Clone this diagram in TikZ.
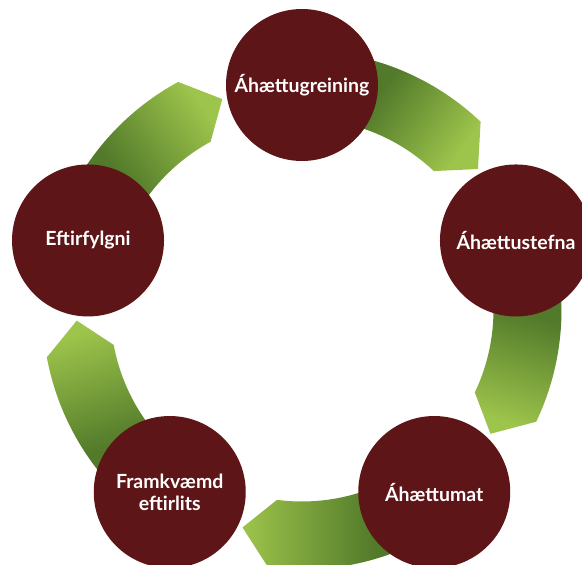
\documentclass[tikz,border=0pt]{standalone}
\usepackage{fontspec}
\setmainfont{Lato}
\definecolor{maroon}{HTML}{5E1517}
\definecolor{gdark}{HTML}{527A2A}
\definecolor{glight}{HTML}{9DC44B}
\pgfdeclarehorizontalshading{arrowgrad}{100bp}{color(0bp)=(gdark); color(25bp)=(gdark); color(40bp)=(gdark); color(75bp)=(glight); color(100bp)=(glight)}
\begin{document}
\begin{tikzpicture}[x=1pt,y=1pt,
  stage/.style={circle, fill=maroon, minimum size=152pt, inner sep=0pt, text=white,
    font=\bfseries\fontsize{19.5}{22}\selectfont, align=center},
  band/.style={shading=arrowgrad}]
\useasboundingbox (-302,-255) rectangle (280,310);
\fill[white] (-302,-255) rectangle (280,310);
\coordinate (O) at (0,0);
\foreach \a in {162,90,18,-54,-126}{
  \pgfmathsetmacro\angT{\a-6}
  \pgfmathsetmacro\angB{\a-72+28.5}
  \pgfmathsetmacro\angP{\a-72+20.7}
  \pgfmathsetmacro\angS{\a-126}
  \shade[band, shading angle=\angS] (\angT:259.5) arc[start angle=\angT, end angle=\angB, radius=259.5]
     -- (\angP:225.5) -- (\angB:191.5) arc[start angle=\angB, end angle=\angT, radius=191.5] -- cycle;
}
\node[stage] (a) at (90:225) {Áhættugreining};
\node[stage] (b) at (18:225) {Áhættustefna};
\node[stage] (c) at (-54:225) {Áhættumat};
\node[stage] (d) at (-126:225) {Framkvæmd\\eftirlits};
\node[stage] (e) at (162:225) {Eftirfylgni};
\end{tikzpicture}
\end{document}
